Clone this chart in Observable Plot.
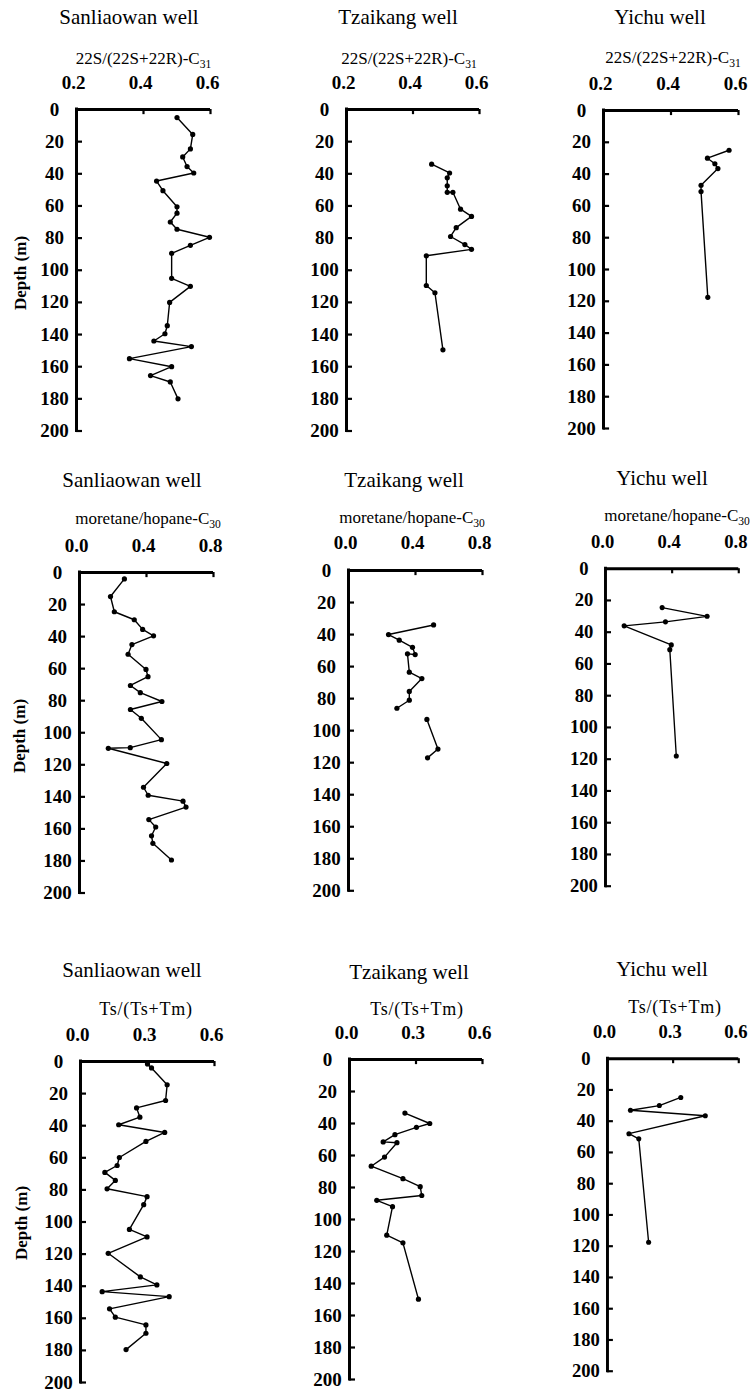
<!DOCTYPE html>
<html>
<head>
<meta charset="utf-8">
<script src="https://cdn.jsdelivr.net/npm/d3@7"></script>
<script src="https://cdn.jsdelivr.net/npm/@observablehq/plot@0.6"></script>
<style>
  html, body { margin: 0; padding: 0; background: #fff; }
  #page { position: relative; width: 752px; height: 1392px; overflow: hidden; font-family: "Liberation Serif", "DejaVu Serif", serif; color: #000; }
  .txt { position: absolute; transform: translate(-50%, -50%); white-space: nowrap; line-height: 1; }
  .title { font-size: 21px; }
  .xlab { font-size: 17px; }
  .xlab.ts { font-size: 18px; letter-spacing: 0.8px; }
  .sub { font-size: 0.68em; position: relative; top: 0.32em; }
  .ylab { font-size: 17px; font-weight: bold; transform: translate(-50%, -50%) rotate(-90deg); }
  .panel { position: absolute; }
</style>
</head>
<body>
<div id="page"></div>
<script>
// ---------- categories / labels ----------
const wells = ["Sanliaowan well", "Tzaikang well", "Yichu well"];
const paramLabels = [
  ["22S/(22S+22R)-C", "31"],
  ["moretane/hopane-C", "30"],
  ["Ts/(Ts+Tm)", ""]
];
const depthLabel = "Depth (m)";

// ---------- tick values ----------
const ticks22 = [0.2, 0.4, 0.6];
const ticksMor = [0.0, 0.4, 0.8];
const ticksTs = [0.0, 0.3, 0.6];
const depthTicks = [0, 20, 40, 60, 80, 100, 120, 140, 160, 180, 200];

// ---------- 22S/(22S+22R)-C31 ----------
const san22Depth = [5, 15.5, 24.5, 29.5, 35.5, 39.5, 44.5, 50.5, 60.5, 64.5, 70, 74.5, 79.5, 84.5, 89.5, 105, 110, 120, 134.5, 139.5, 144, 147.5, 155, 160, 165.5, 169.5, 180];
const san22Value = [0.50, 0.547, 0.54, 0.517, 0.53, 0.55, 0.439, 0.458, 0.50, 0.50, 0.48, 0.50, 0.597, 0.54, 0.484, 0.484, 0.54, 0.478, 0.471, 0.464, 0.431, 0.543, 0.358, 0.484, 0.421, 0.48, 0.503];

const tza22Depth = [34, 39.5, 42.5, 47.5, 51.5, 51.5, 62, 66.5, 73.5, 79, 84, 87, 91, 109.5, 114, 149.5];
const tza22Value = [0.456, 0.51, 0.503, 0.503, 0.503, 0.52, 0.543, 0.576, 0.53, 0.513, 0.556, 0.576, 0.44, 0.44, 0.466, 0.49];

const yic22Depth = [25, 30, 33.5, 36.5, 47, 51, 117.5];
const yic22Value = [0.572, 0.508, 0.53, 0.539, 0.489, 0.489, 0.509];

// ---------- moretane/hopane-C30 ----------
const sanMorDepth = [4, 15, 24.5, 29.5, 35.5, 39.5, 45, 51, 60.5, 65, 70.5, 75, 80.5, 85.5, 91, 104.3, 109.3, 109.7, 119.2, 134, 139, 142.7, 146.4, 154.2, 158.8, 164.3, 169, 179.4];
const sanMorValue = [0.268, 0.185, 0.208, 0.327, 0.377, 0.442, 0.313, 0.29, 0.397, 0.409, 0.304, 0.363, 0.492, 0.304, 0.369, 0.489, 0.303, 0.172, 0.521, 0.382, 0.41, 0.618, 0.636, 0.414, 0.455, 0.43, 0.438, 0.549];

const tzaMorDepth = [34, 40, 43.5, 48, 52.5, 52, 63.5, 67.5, 75.5, 81, 86, 93, 111.5, 117];
const tzaMorValue = [0.508, 0.239, 0.303, 0.382, 0.398, 0.352, 0.363, 0.438, 0.363, 0.363, 0.289, 0.468, 0.534, 0.472];
const tzaMorSegment = [1, 1, 1, 1, 1, 1, 1, 1, 1, 1, 1, 2, 2, 2];

const yicMorDepth = [24.5, 30, 33.5, 36, 48, 51, 118];
const yicMorValue = [0.34, 0.61, 0.36, 0.112, 0.395, 0.386, 0.425];

// ---------- Ts/(Ts+Tm) ----------
const sanTsDepth = [1.5, 4, 14.5, 24.3, 28.9, 34.7, 39.4, 44.2, 49.8, 59.8, 64.8, 69.1, 74.1, 79.3, 84.2, 89.2, 104.6, 109.3, 119.5, 134.2, 139.2, 143.4, 146.5, 154.1, 159.3, 164.1, 169.3, 179.5];
const sanTsValue = [0.30, 0.318, 0.388, 0.381, 0.251, 0.266, 0.171, 0.377, 0.293, 0.174, 0.164, 0.109, 0.156, 0.119, 0.298, 0.283, 0.219, 0.298, 0.124, 0.268, 0.342, 0.097, 0.397, 0.13, 0.156, 0.293, 0.293, 0.204];

const tzaTsDepth = [33.5, 40, 42.4, 47, 51.5, 52, 61, 66.7, 74.5, 79.5, 85, 88, 92, 109.8, 114.6, 149.8];
const tzaTsValue = [0.25, 0.362, 0.302, 0.205, 0.152, 0.214, 0.158, 0.098, 0.241, 0.319, 0.326, 0.123, 0.194, 0.168, 0.241, 0.311];

const yicTsDepth = [24.8, 30, 33, 36.5, 48, 51.3, 117.5];
const yicTsValue = [0.335, 0.237, 0.105, 0.447, 0.098, 0.143, 0.188];

// ---------- panel definitions (row-major) ----------
const panels = [
  { well: 0, param: 0, ticks: ticks22, depth: san22Depth, value: san22Value },
  { well: 1, param: 0, ticks: ticks22, depth: tza22Depth, value: tza22Value },
  { well: 2, param: 0, ticks: ticks22, depth: yic22Depth, value: yic22Value },
  { well: 0, param: 1, ticks: ticksMor, depth: sanMorDepth, value: sanMorValue },
  { well: 1, param: 1, ticks: ticksMor, depth: tzaMorDepth, value: tzaMorValue, seg: tzaMorSegment },
  { well: 2, param: 1, ticks: ticksMor, depth: yicMorDepth, value: yicMorValue },
  { well: 0, param: 2, ticks: ticksTs, depth: sanTsDepth, value: sanTsValue },
  { well: 1, param: 2, ticks: ticksTs, depth: tzaTsDepth, value: tzaTsValue },
  { well: 2, param: 2, ticks: ticksTs, depth: yicTsDepth, value: yicTsValue }
];

// ---------- layout (pixel frames: left, right, top, bottom) ----------
const frames = [
  [76, 210, 108.5, 430], [346, 479, 108.5, 430], [603, 738, 110, 428],
  [79, 213, 571.5, 892], [348, 482, 569.7, 890], [606, 742, 569, 893],
  [80, 214, 1061, 1382], [349, 482, 1059, 1379], [608, 742, 1059, 1378]
];
const titlePos = [[129, 17], [398, 17], [660, 17], [132, 480], [404, 480], [662, 478], [132, 970], [409, 972], [662, 969]];
const labelPos = [[143.5, 58], [409, 58], [673, 57], [148, 518], [412, 517], [677, 515], [146, 1009], [417, 1009], [675, 1007]];
const depthLabelPos = [[19.5, 273], [19, 736], [20.5, 1223]];

const page = document.getElementById("page");

function addText(cls, x, y, html) {
  const d = document.createElement("div");
  d.className = "txt " + cls;
  d.style.left = x + "px";
  d.style.top = y + "px";
  d.innerHTML = html;
  page.appendChild(d);
}

panels.forEach((p, i) => {
  const [xl, xr, yt, yb] = frames[i];
  const mL = 50, mR = 14, mT = 40, mB = 14;
  const w = mL + (xr - xl) + mR;
  const h = mT + (yb - yt) + mB;
  const dom = [p.ticks[0], p.ticks[p.ticks.length - 1]];
  const data = p.depth.map((d, k) => ({ depth: d, value: p.value[k], seg: p.seg ? p.seg[k] : 1 }));

  const svg = Plot.plot({
    width: w, height: h,
    marginLeft: mL, marginRight: mR, marginTop: mT, marginBottom: mB,
    x: { domain: dom, axis: null },
    y: { domain: [0, 200], reverse: true, axis: null },
    style: { fontFamily: "'Liberation Serif', serif", fontSize: "19px", fontWeight: "bold", color: "black", background: "transparent", overflow: "visible" },
    marks: [
      Plot.axisX({ anchor: "top", ticks: p.ticks, tickSize: 0, tickPadding: 21, tickFormat: d3.format(".1f"), dx: -3, label: null }),
      Plot.axisY({ anchor: "left", ticks: depthTicks, tickSize: 0, tickPadding: 22, textAnchor: "middle", tickFormat: d3.format("d"), label: null }),
      Plot.ruleY([0], { stroke: "black", strokeWidth: 3 }),
      Plot.ruleX([dom[0]], { y1: 0, y2: 200, stroke: "black", strokeWidth: 3, strokeLinecap: "square" }),
      Plot.ruleY(depthTicks.slice(1), { x1: dom[0], x2: dom[0] + 0.045 * (dom[1] - dom[0]), stroke: "black", strokeWidth: 2.2 }),
      Plot.ruleX(p.ticks.slice(1), { y1: 0, y2: 3.2, stroke: "black", strokeWidth: 2.2 }),
      Plot.line(data, { x: "value", y: "depth", z: "seg", stroke: "black", strokeWidth: 1.4 }),
      Plot.dot(data, { x: "value", y: "depth", r: 2.6, fill: "black" })
    ]
  });
  const holder = document.createElement("div");
  holder.className = "panel";
  holder.style.left = (xl - mL) + "px";
  holder.style.top = (yt - mT) + "px";
  holder.appendChild(svg);
  page.appendChild(holder);

  addText("title", titlePos[i][0], titlePos[i][1], wells[p.well]);
  const lab = paramLabels[p.param];
  addText("xlab" + (p.param === 2 ? " ts" : ""), labelPos[i][0], labelPos[i][1],
    lab[0] + (lab[1] ? '<span class="sub">' + lab[1] + '</span>' : ""));
});

depthLabelPos.forEach(([x, y]) => addText("ylab", x, y, depthLabel));
</script>
</body>
</html>
